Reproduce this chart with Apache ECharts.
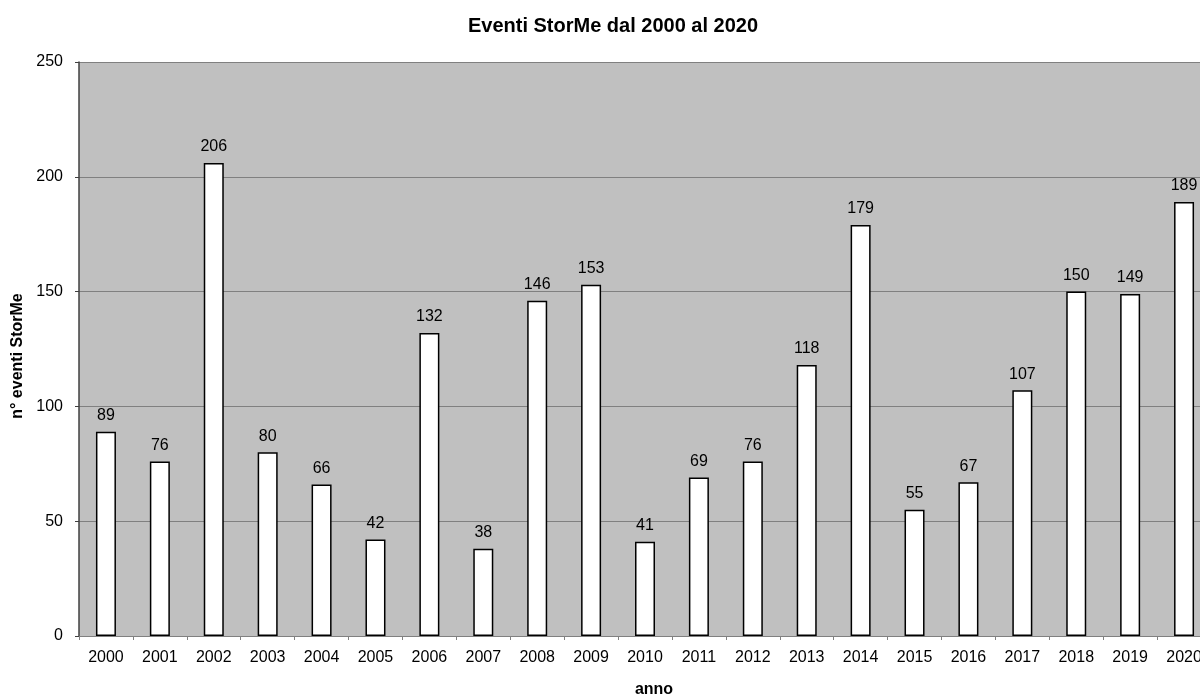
<!DOCTYPE html>
<html><head><meta charset="utf-8">
<script src="https://cdn.jsdelivr.net/npm/echarts@6/dist/echarts.min.js"></script>
<style>html,body{margin:0;padding:0;background:#fff;overflow:hidden}#c{width:1211px;height:697px}</style>
</head><body><div id="c"></div>
<script>
var years = ['2000','2001','2002','2003','2004','2005','2006','2007','2008','2009','2010','2011','2012','2013','2014','2015','2016','2017','2018','2019','2020'];
var eventi = [89,76,206,80,66,42,132,38,146,153,41,69,76,118,179,55,67,107,150,149,189];
var yTicks = [0,50,100,150,200,250];

var F = 'Liberation Sans, Arial, sans-serif';
var chart = echarts.init(document.getElementById('c'));
chart.setOption({
  animation: false,
  title: {text: 'Eventi StorMe dal 2000 al 2020', left: 608, top: 11, textAlign: 'center',
    textStyle: {fontFamily: F, fontSize: 20, fontWeight: 'bold', color: '#000'}},
  grid: {left: 79, width: 1132, top: 62, height: 574, outerBoundsMode: 'none', containLabel: false,
    show: true, backgroundColor: '#c0c0c0', borderWidth: 0},
  xAxis: {
    type: 'category', data: years,
    name: 'anno', nameLocation: 'middle', nameGap: 46,
    nameTextStyle: {fontFamily: F, fontSize: 16, fontWeight: 'bold', color: '#000', padding: [0,0,0,18]},
    axisLine: {lineStyle: {color: '#808080', width: 1}},
    axisTick: {show: true, length: 4, lineStyle: {color: '#808080'}},
    axisLabel: {fontFamily: F, fontSize: 16, color: '#000', margin: 14}
  },
  yAxis: {
    type: 'value', min: yTicks[0], max: yTicks[yTicks.length-1], interval: 50,
    name: 'n° eventi StorMe', nameLocation: 'middle', nameGap: 51, nameRotate: 90,
    nameTextStyle: {fontFamily: F, fontSize: 16, fontWeight: 'bold', color: '#000', padding: [0,14,0,0]},
    axisLine: {show: true, lineStyle: {color: '#404040', width: 1.5}},
    axisTick: {show: true, length: 4, lineStyle: {color: '#404040'}},
    splitLine: {show: true, lineStyle: {color: '#808080', width: 1}},
    axisLabel: {fontFamily: F, fontSize: 16, color: '#000', margin: 16}
  },
  series: [{
    type: 'bar', data: eventi, barWidth: 20,
    itemStyle: {color: '#ffffff', borderColor: '#000000', borderWidth: 1.5},
    label: {show: true, position: 'top', distance: 8, fontFamily: F, fontSize: 16, color: '#000'}
  }]
});
</script></body></html>
